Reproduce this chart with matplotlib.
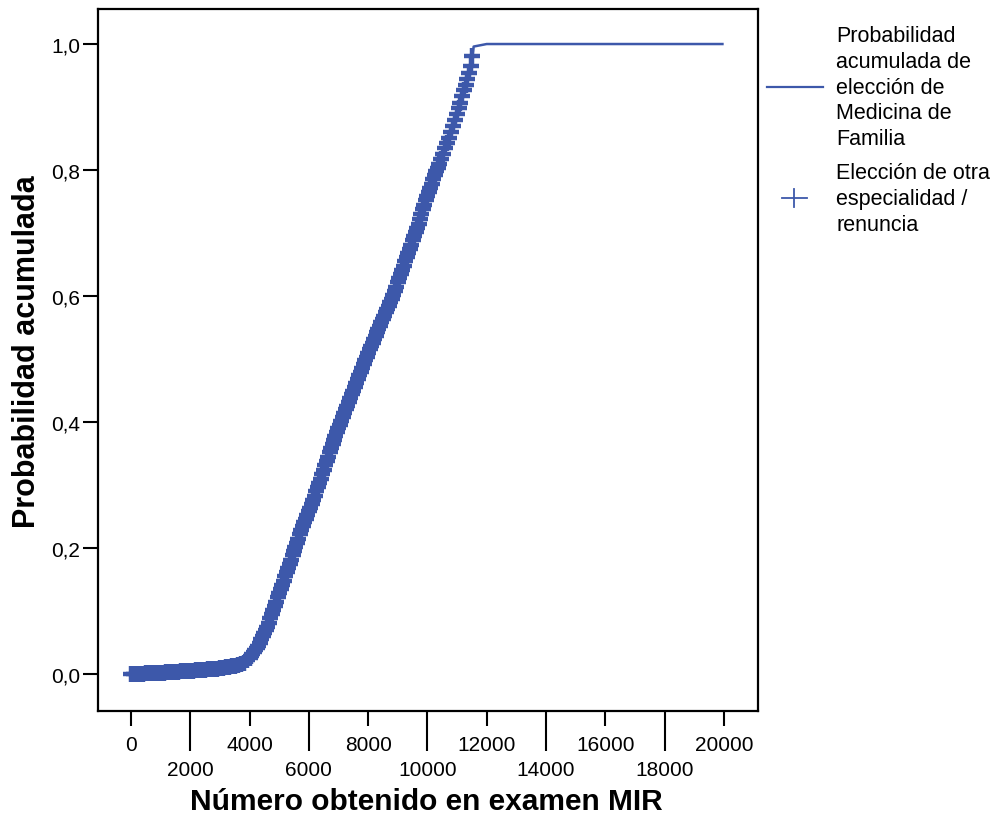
import numpy as np
import matplotlib
matplotlib.use("Agg")
import matplotlib.pyplot as plt
from matplotlib.lines import Line2D

plt.rcParams['font.family'] = ['Liberation Sans', 'DejaVu Sans']

# ---- data ----
# cumulative probability curve (rank in MIR exam -> cumulative probability)
curve_x = [0, 1000, 2000, 3000, 3500, 3800, 4000, 4300, 4600, 4900, 5200, 5500,
           5800, 6100, 6400, 6700, 7000, 7400, 7700, 8000, 8400, 8800, 9100,
           9400, 9700, 9900, 10200, 10500, 10800, 11100, 11400, 11500, 11530,
           11560, 12000, 19950]
curve_y = [0.0, 0.002, 0.005, 0.009, 0.013, 0.018, 0.026, 0.045, 0.075, 0.115,
           0.155, 0.195, 0.235, 0.27, 0.31, 0.352, 0.39, 0.438, 0.474, 0.51,
           0.553, 0.595, 0.635, 0.675, 0.715, 0.745, 0.785, 0.823, 0.862, 0.905,
           0.952, 0.971, 0.985, 0.996, 1.0, 1.0]

# censored observations (choice of another specialty / resignation)
censor_x = [0, 100, 200, 300, 400, 500, 600, 700, 800, 900, 1000, 1100, 1200,
            1300, 1400, 1500, 1600, 1700, 1800, 1900, 2000, 2100, 2200, 2300,
            2400, 2500, 2600, 2700, 2800, 2900, 3000, 3100, 3200, 3300, 3400,
            3500, 3600, 3700, 3800, 3900,
            4000, 4050, 4100, 4150, 4200, 4250, 4300, 4350, 4400, 4450, 4500,
            4550, 4600, 4650, 4700, 4750, 4800, 4850, 4900, 4950, 5000, 5050,
            5100, 5150, 5200, 5250, 5300, 5350, 5400, 5450, 5500, 5550, 5600,
            5650, 5700, 5750, 5800, 5850, 5900, 5950, 6000, 6050, 6100, 6150,
            6200, 6250, 6300, 6350, 6400, 6450, 6500, 6550, 6600, 6650, 6700,
            6750, 6800, 6850, 6900, 6950, 7000, 7050, 7100, 7150, 7200, 7250,
            7300, 7350, 7400, 7450, 7500, 7550, 7600, 7650, 7700, 7750, 7800,
            7850, 7900, 7950, 8000, 8050, 8100, 8150, 8200, 8250, 8300, 8350,
            8400, 8450, 8500, 8550, 8600, 8650, 8700, 8750, 8800, 8850, 8900,
            8950, 9000, 9050, 9100, 9150, 9200, 9250, 9300, 9350, 9400, 9450,
            9500, 9550, 9600, 9650, 9700, 9750, 9800, 9850, 9900, 9950, 10000,
            10050, 10100, 10150, 10200, 10250, 10300, 10350, 10400,
            10460, 10520, 10590, 10650, 10720, 10790, 10850, 10920, 10990,
            11050, 11110, 11180, 11240, 11290, 11350, 11410, 11470, 11520]

x_ticks_major = [0, 4000, 8000, 12000, 16000, 20000]
x_ticks_minor = [2000, 6000, 10000, 14000, 18000]
y_ticks = [0.0, 0.2, 0.4, 0.6, 0.8, 1.0]
y_ticklabels = ['0,0', '0,2', '0,4', '0,6', '0,8', '1,0']

legend_line_label = "Probabilidad\nacumulada de\nelección de\nMedicina de\nFamilia"
legend_marker_label = "Elección de otra\nespecialidad /\nrenuncia"
xlabel = "Número obtenido en examen MIR"
ylabel = "Probabilidad acumulada"

color = '#3D58AA'

W, H = 997, 820
fig = plt.figure(figsize=(W / 100, H / 100), dpi=100)
ax = fig.add_axes([98 / W, 1 - 712 / H, (758 - 98) / W, (712 - 10) / H])

ax.plot(curve_x, curve_y, color=color, lw=1.8, zorder=2)
censor_y = np.interp(censor_x, curve_x, curve_y)
ax.plot(censor_x, censor_y, linestyle='none', marker='+', markersize=11.5,
        markeredgewidth=3.2, color=color, zorder=3)

ax.set_xlim(-1110, 21150)
ax.set_ylim(-0.0587, 1.0556)

ax.set_xticks(x_ticks_major)
ax.set_xticklabels([str(v) for v in x_ticks_major])
ax.set_xticks(x_ticks_minor, minor=True)
ax.set_xticklabels([str(v) for v in x_ticks_minor], minor=True)
ax.set_yticks(y_ticks)
ax.set_yticklabels(y_ticklabels)

ax.tick_params(axis='x', which='major', direction='out', length=11, width=1.5,
               pad=6.5, labelsize=15)
ax.tick_params(axis='x', which='minor', direction='out', length=29, width=1.5,
               pad=6, labelsize=15)
ax.tick_params(axis='y', which='major', direction='out', length=11, width=1.5,
               pad=2, labelsize=15)
ax.tick_params(axis='y', which='minor', left=False)

for s in ax.spines.values():
    s.set_linewidth(1.6)
    s.set_color('black')

fig.text(426 / W, 1 - 802 / H, xlabel, ha='center', va='center',
         fontsize=21.5, fontweight='bold')
fig.text(27 / W, 1 - 352 / H, ylabel, ha='center', va='center',
         rotation=90, fontsize=22, fontweight='bold')

# legend (drawn manually, outside the axes)
fig.add_artist(Line2D([767 / W, 823 / W], [1 - 88 / H, 1 - 88 / H],
                      color=color, lw=1.6))
mx, my = 794 / W, 1 - 199 / H
fig.add_artist(Line2D([782 / W, 807 / W], [my, my], color=color, lw=1.3))
fig.add_artist(Line2D([mx, mx], [1 - 190 / H, 1 - 208 / H], color=color, lw=1.3))
fig.text(836 / W, 1 - 26 / H, legend_line_label, ha='left', va='top',
         fontsize=15.5, linespacing=1.3)
fig.text(836 / W, 1 - 163 / H, legend_marker_label, ha='left', va='top',
         fontsize=15.5, linespacing=1.3)

fig.savefig('out.png', dpi=100)
